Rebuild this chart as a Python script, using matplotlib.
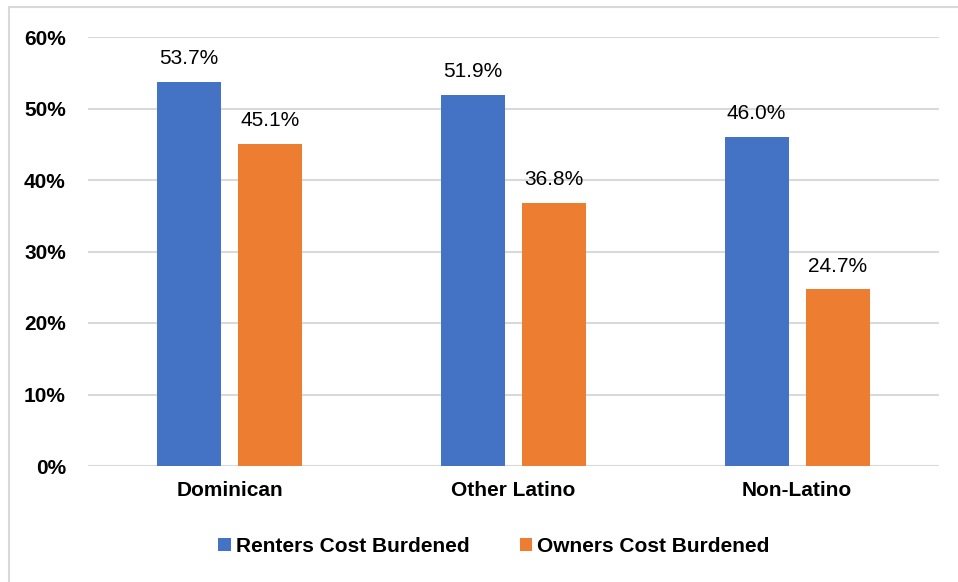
import numpy as np
import matplotlib.pyplot as plt
from matplotlib.patches import Rectangle

categories = ['Dominican', 'Other Latino', 'Non-Latino']
renters = [53.7, 51.9, 46.0]
owners = [45.1, 36.8, 24.7]
series_names = ['Renters Cost Burdened', 'Owners Cost Burdened']
colors = ['#4472C4', '#ED7D31']

plt.rcParams['font.family'] = ['Liberation Sans', 'DejaVu Sans']

fig = plt.figure(figsize=(9.58, 5.82), dpi=100)
ax = fig.add_axes([88 / 958, 1 - 466 / 582, (939 - 88) / 958, (466 - 37) / 582])

x = np.arange(len(categories))
w = 0.226
off = 0.143
bars = []
for vals, name, col, sgn in zip([renters, owners], series_names, colors, [-1, 1]):
    b = ax.bar(x + sgn * off, vals, width=w, color=col, label=name, zorder=3)
    bars.append(b)
    for rect, v in zip(b, vals):
        ax.annotate(f'{v:.1f}%', (rect.get_x() + rect.get_width() / 2, v),
                    xytext=(0, 10), textcoords='offset points',
                    ha='center', va='bottom', fontsize=15, color='black')

ax.set_xlim(-0.5, len(categories) - 0.5)
ax.set_ylim(0, 60)
ax.set_yticks(range(0, 61, 10))
ax.set_yticklabels([f'{t}%' for t in range(0, 61, 10)])
ax.set_xticks(x)
ax.set_xticklabels(categories)
ax.tick_params(axis='y', length=0, pad=16, labelsize=15)
ax.tick_params(axis='x', length=0, pad=11, labelsize=15)
for lab in ax.get_xticklabels() + ax.get_yticklabels():
    lab.set_fontweight('bold')
ax.grid(axis='y', color='#d9d9d9', linewidth=1.5, zorder=0)
for s in ax.spines.values():
    s.set_visible(False)

leg = fig.legend(handles=bars, labels=series_names, loc='center',
                 bbox_to_anchor=(494 / 958, 1 - 546 / 582), ncol=2, frameon=False,
                 handlelength=0.6, handleheight=0.6, handletextpad=0.25,
                 columnspacing=2.4, prop={'size': 15, 'weight': 'bold'})

fig.patches.append(Rectangle((9 / 958, -0.1), 1.2, 1 - 7 / 582 + 0.1,
                             transform=fig.transFigure, fill=False,
                             edgecolor='#d9d9d9', linewidth=1.5))

fig.savefig('out.png', dpi=100)
